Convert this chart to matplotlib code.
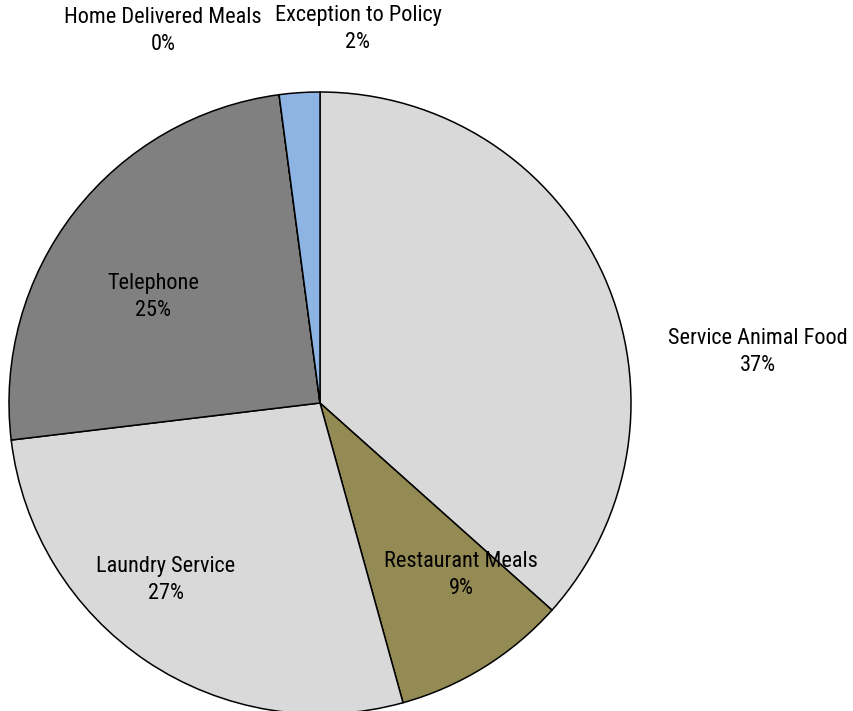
import matplotlib
matplotlib.use("Agg")
import matplotlib.pyplot as plt
import numpy as np

categories = ["Service Animal Food", "Restaurant Meals", "Laundry Service",
              "Telephone", "Home Delivered Meals", "Exception to Policy"]
values = [36.6, 9.1, 27.4, 24.8, 0.0, 2.1]
pct_labels = ["37%", "9%", "27%", "25%", "0%", "2%"]
colors = ["#D9D9D9", "#948A54", "#D9D9D9", "#808080", "#4F81BD", "#8DB4E2"]

# label anchor positions (layout, in units of pie radius)
label_pos = [(1.408, 0.164), (0.453, -0.553), (-0.495, -0.569),
             (-0.537, 0.341), (-0.505, 1.196), (0.122, 1.203)]

W, H = 854, 711
R = 311.0
cx, cy = 320.0, 403.0

fig = plt.figure(figsize=(W / 100, H / 100), dpi=100)
ax = fig.add_axes([0, 0, 1, 1])
ax.pie(values, colors=colors, startangle=90, counterclock=False, radius=1.0,
       wedgeprops=dict(edgecolor="black", linewidth=1.1))
ax.set_xlim(-cx / R, (W - cx) / R)
ax.set_ylim(-(H - cy) / R, cy / R)
ax.set_aspect("equal")
ax.axis("off")

font = ["Roboto Condensed", "DejaVu Sans"]
for cat, pct, (x, y) in zip(categories, pct_labels, label_pos):
    ax.text(x, y, f"{cat}\n{pct}", ha="center", va="center", fontsize=16,
            family=font, color="black", linespacing=1.33)

fig.savefig("out.png", dpi=100)
